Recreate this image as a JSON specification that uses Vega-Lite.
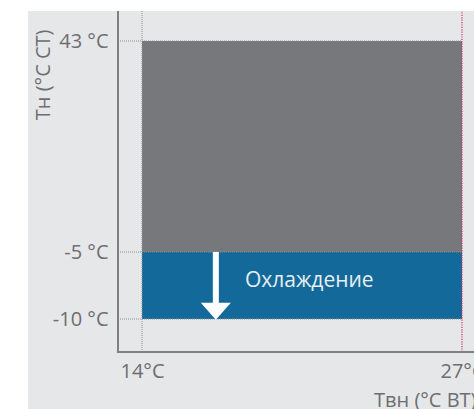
{
  "$schema": "https://vega.github.io/schema/vega-lite/v6.json",
  "width": 446,
  "height": 398,
  "autosize": {"type": "none"},
  "padding": {"left": 28, "top": 11, "right": 0, "bottom": 0},
  "background": "white",
  "config": {
    "view": {"fill": "#e6e7e8", "stroke": null},
    "font": "Open Sans",
    "axis": {"grid": false, "domain": false, "ticks": false}
  },
  "data": {"values": [{}]},
  "datasets": {
    "zones": [
      {"t_from": 14, "t_to": 27, "low": -5, "high": 43, "zone": "range"},
      {"t_from": 14, "t_to": 27, "low": -10, "high": -5, "zone": "cooling"}
    ],
    "levels": [{"level": 43}, {"level": -5}, {"level": -10}],
    "labels": [{"t": 18.18, "tn": -7.61, "label": "Охлаждение"}]
  },
  "encoding": {
    "x": {
      "type": "quantitative",
      "scale": {"domain": [9.3687, 27.4875], "nice": false, "zero": false},
      "axis": {
        "values": [14, 27], "labelExpr": "datum.value + '°C'",
        "domain": false, "ticks": false, "grid": false, "offset": -57,
        "labelFontSize": 20, "labelColor": "#6d6e71", "labelPadding": 9, "labelFont": "Open Sans",
        "title": "Твн (°C ВТ)", "titleFontSize": 20, "titleFontWeight": "normal", "titleColor": "#6d6e71", "titleFont": "Open Sans",
        "titleX": 448, "titleY": 54, "titleAlign": "right", "titleBaseline": "alphabetic"
      }
    },
    "y": {
      "type": "quantitative",
      "scale": {"domain": [-16.716, -10, -5, 43, 49.825], "range": [398, 308, 241, 30, 0], "nice": false, "zero": false},
      "axis": {
        "values": [-10, -5, 43], "labelExpr": "datum.value + ' °C'",
        "domain": false, "ticks": false, "grid": false, "offset": -90,
        "labelFontSize": 20, "labelColor": "#6d6e71", "labelPadding": 10, "labelFont": "Open Sans",
        "title": "Тн (°C СТ)", "titleFontSize": 20, "titleFontWeight": "normal", "titleColor": "#6d6e71", "titleFont": "Open Sans",
        "titleAngle": -90, "titleX": -75, "titleY": 18, "titleAlign": "right", "titleBaseline": "middle"
      }
    }
  },
  "layer": [
    {
      "data": {"name": "zones"},
      "mark": {"type": "rect"},
      "encoding": {
        "x": {"field": "t_from"},
        "x2": {"field": "t_to"},
        "y": {"field": "low"},
        "y2": {"field": "high"},
        "color": {
          "field": "zone", "type": "nominal",
          "scale": {"domain": ["range", "cooling"], "range": ["#77787b", "#136a9a"]},
          "legend": null
        }
      }
    },
    {
      "data": {"name": "levels"},
      "mark": {"type": "rule", "color": "#8e8f91", "strokeWidth": 1, "strokeDash": [1, 1]},
      "encoding": {
        "x": {"datum": 13.025},
        "x2": {"datum": 27},
        "y": {"field": "level"}
      }
    },
    {
      "mark": {"type": "rule", "color": "#8e8f91", "strokeWidth": 1, "strokeDash": [1, 1]},
      "encoding": {
        "x": {"datum": 14},
        "y": {"datum": -12.463},
        "y2": {"datum": 49.825}
      }
    },
    {
      "mark": {"type": "rule", "color": "#d0306b", "strokeWidth": 1.2, "strokeDash": [1.2, 1.2]},
      "encoding": {
        "x": {"datum": 27},
        "y": {"datum": -12.463},
        "y2": {"datum": 49.825}
      }
    },
    {
      "mark": {"type": "rule", "color": "white", "strokeWidth": 6},
      "encoding": {
        "x": {"datum": 17},
        "y": {"datum": -5},
        "y2": {"datum": -9.1}
      }
    },
    {
      "mark": {"type": "point", "shape": "M-1,-0.5667L1,-0.5667L0,0.5667Z", "size": 900, "filled": true, "color": "white", "opacity": 1, "strokeWidth": 0},
      "encoding": {
        "x": {"datum": 17},
        "y": {"datum": -9.425}
      }
    },
    {
      "data": {"name": "labels"},
      "mark": {"type": "text", "align": "left", "baseline": "alphabetic", "fontSize": 21, "font": "Open Sans", "color": "#e8eef3"},
      "encoding": {
        "x": {"field": "t"},
        "y": {"field": "tn"},
        "text": {"field": "label"}
      }
    },
    {
      "mark": {"type": "rule", "color": "#7f8082", "strokeWidth": 2},
      "encoding": {
        "x": {"datum": 13.025},
        "y": {"datum": -12.463},
        "y2": {"datum": 49.825}
      }
    },
    {
      "mark": {"type": "rule", "color": "#7f8082", "strokeWidth": 2},
      "encoding": {
        "x": {"datum": 12.98},
        "x2": {"datum": 27.4875},
        "y": {"datum": -12.463}
      }
    }
  ]
}
